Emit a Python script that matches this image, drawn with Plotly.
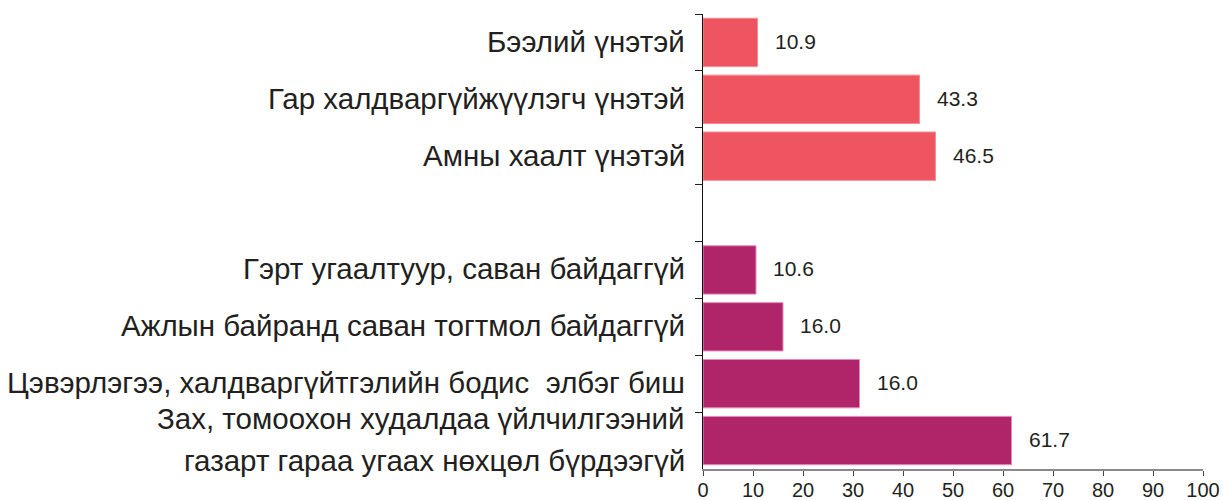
import plotly.graph_objects as go

categories = [
    "Бээлий үнэтэй",
    "Гар халдваргүйжүүлэгч үнэтэй",
    "Амны хаалт үнэтэй",
    " ",
    "Гэрт угаалтуур, саван байдаггүй",
    "Ажлын байранд саван тогтмол байдаггүй",
    "Цэвэрлэгээ, халдваргүйтгэлийн бодис  элбэг биш",
    "Зах, томоохон худалдаа үйлчилгээний<br>газарт гараа угаах нөхцөл бүрдээгүй",
]
group1_cats = categories[0:3]
group1_vals = [10.9, 43.3, 46.5]
group1_text = ["10.9", "43.3", "46.5"]
group2_cats = categories[4:8]
group2_vals = [10.6, 16.0, 31.3, 61.7]
group2_text = ["10.6", "16.0", "16.0", "61.7"]
x_ticks = [0, 10, 20, 30, 40, 50, 60, 70, 80, 90, 100]

RED = "#EF5461"
MAG = "#B0246A"
TXT = "#231F20"
FONT = "Liberation Sans, Arial, sans-serif"

fig = go.Figure()
fig.add_trace(go.Bar(y=group1_cats, x=group1_vals, orientation="h",
                     marker=dict(color=RED, line=dict(color="#F48A93", width=1)),
                     width=0.85, hoverinfo="skip"))
fig.add_trace(go.Bar(y=group2_cats, x=group2_vals, orientation="h",
                     marker=dict(color=MAG, line=dict(color="#E48CBA", width=1)),
                     width=0.85, hoverinfo="skip"))

annotations = []
for cats, vals, texts in [(group1_cats, group1_vals, group1_text),
                          (group2_cats, group2_vals, group2_text)]:
    for c, v, t in zip(cats, vals, texts):
        annotations.append(dict(x=v, y=c, xref="x", yref="y", text=t,
                                showarrow=False, xanchor="left", yanchor="middle",
                                xshift=15, yshift=1,
                                font=dict(size=21, color=TXT, family=FONT)))

for c in categories:
    lines = c.split("<br>")
    n = len(lines)
    for i, ln in enumerate(lines):
        shift = (n - 1) / 2 * 42 - i * 42 + 1
        annotations.append(dict(x=0, y=c, xref="paper", yref="y", text=ln,
                                showarrow=False, xanchor="right", yanchor="middle",
                                xshift=-16, yshift=shift,
                                font=dict(size=29.5, color=TXT, family=FONT)))

fig.update_layout(
    width=1223, height=500,
    margin=dict(l=703, r=20, t=14, b=31),
    paper_bgcolor="white", plot_bgcolor="white",
    barmode="overlay", showlegend=False,
    annotations=annotations,
    font=dict(family=FONT, color=TXT),
    xaxis=dict(range=[0, 100], tickvals=x_ticks, ticks="outside", ticklen=5,
               tickcolor="#444", showline=True, linecolor="#8A8A8A", linewidth=2,
               showgrid=False, zeroline=False, tickfont=dict(size=20, color=TXT),
               ticklabelstandoff=-3, automargin=False),
    yaxis=dict(categoryorder="array", categoryarray=categories, type="category",
               range=[len(categories) - 0.5, -0.5], autorange=False,
               showticklabels=False, ticks="outside",
               tickson="boundaries", ticklen=7, tickcolor="#222",
               showline=True, linecolor="#111", linewidth=1, showgrid=False,
               zeroline=False, automargin=False),
)

fig.write_html("out.html", config={"displayModeBar": False},
               post_script="document.body.style.margin='0';document.body.style.overflow='hidden';")
